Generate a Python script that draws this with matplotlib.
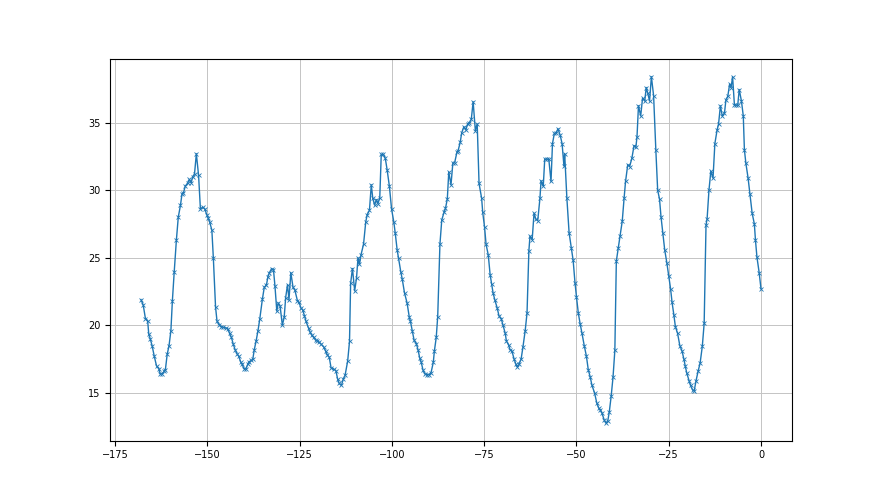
import matplotlib
matplotlib.use("Agg")
import matplotlib.pyplot as plt

# hours relative to now
hours = [
    -168.0, -167.4, -166.8, -166.2, -165.9, -165.5, -165.0, -164.4, -163.8, -163.2,
    -162.8, -162.3, -161.7, -161.4, -160.9, -160.4, -159.9, -159.5, -159.0, -158.4,
    -157.9, -157.3, -156.9, -156.5, -156.0, -155.3, -154.9, -154.4, -154.0, -153.5,
    -153.0, -152.4, -151.9, -151.3, -150.7, -150.2, -149.8, -149.4, -148.8, -148.4,
    -147.8, -147.4, -146.8, -146.3, -145.7, -145.1,
    -144.5, -144.0, -143.5, -143.0, -142.5, -141.9, -141.5, -141.0, -140.6, -140.1,
    -139.6, -139.1, -138.7, -138.1, -137.7, -137.3, -136.8, -136.3, -135.8, -135.1,
    -134.6, -134.0, -133.6, -133.2, -132.6, -132.1, -131.7, -131.2, -130.8, -130.3,
    -129.7, -129.2, -128.8, -128.3, -127.9, -127.4, -126.8, -126.3, -125.6, -125.2,
    -124.6, -124.2, -123.7, -123.3, -122.6, -122.2, -121.7, -121.2, -120.7,
    -120.3, -119.7, -119.2, -118.5, -118.0, -117.5, -117.0, -116.5, -115.8, -115.2,
    -114.7, -114.3, -113.7, -113.2, -112.7, -112.0, -111.5, -111.2, -110.7, -110.1,
    -109.6, -109.2, -108.8, -108.4, -107.7, -107.1, -106.7, -106.1, -105.6, -105.2,
    -104.7, -104.2, -103.8, -103.3, -102.9, -102.3, -101.8, -101.3, -100.7, -100.1,
    -99.5, -99.1, -98.6, -98.2, -97.6, -97.2, -96.6,
    -95.9, -95.3, -95.0, -94.5, -94.0, -93.4, -92.9, -92.5, -92.1, -91.6,
    -91.1, -90.5, -89.9, -89.4, -88.8, -88.5, -88.0, -87.6, -87.0, -86.5,
    -85.9, -85.5, -85.0, -84.6, -84.0, -83.5, -83.0, -82.4, -82.1, -81.5,
    -81.1, -80.5, -80.0, -79.5, -79.0, -78.5, -78.0, -77.4, -76.9, -76.4,
    -75.7, -75.4, -74.9, -74.5, -73.9, -73.4, -73.0, -72.6, -72.1,
    -71.5, -71.0, -70.4, -69.9, -69.3, -69.0, -68.4, -68.0, -67.5, -66.9,
    -66.4, -66.0, -65.6, -65.0, -64.5, -63.9, -63.4, -62.9, -62.6, -62.0,
    -61.5, -61.0, -60.5, -59.9, -59.6, -59.0, -58.6, -58.0, -57.5, -56.9,
    -56.5, -56.0, -55.5, -55.0, -54.4, -53.9, -53.4, -53.2, -52.6, -52.0,
    -51.4, -50.9, -50.4, -50.0, -49.5, -49.0, -48.5, -47.9,
    -47.3, -46.8, -46.3, -45.8, -45.1, -44.5, -44.0, -43.5, -43.1, -42.5,
    -42.0, -41.5, -41.1, -40.6, -40.1, -39.6, -39.2, -38.7, -38.2, -37.6,
    -37.1, -36.7, -36.1, -35.6, -35.0, -34.4, -33.9, -33.6, -33.2, -32.6,
    -32.1, -31.5, -31.1, -30.7, -30.2, -29.7, -29.1, -28.5, -28.0, -27.5,
    -27.1, -26.6, -26.1, -25.5, -25.0, -24.5, -24.1, -23.6, -23.2,
    -22.6, -22.0, -21.4, -20.9, -20.5, -20.1, -19.5, -19.1, -18.5, -18.1,
    -17.6, -17.0, -16.5, -15.9, -15.4, -14.9, -14.6, -14.1, -13.6, -13.0,
    -12.5, -11.9, -11.5, -11.0, -10.5, -9.9, -9.5, -9.0, -8.5, -8.1,
    -7.7, -7.2, -6.8, -6.3, -5.9, -5.3, -4.8, -4.5, -4.1, -3.5,
    -3.0, -2.4, -1.8, -1.5, -1.1, -0.5, 0.0,
]

temps = [
    21.9, 21.5, 20.5, 20.35, 19.35, 19.0, 18.5, 17.7, 17.0, 16.8,
    16.4, 16.4, 16.6, 16.7, 17.85, 18.5, 19.6, 21.8, 23.95, 26.35,
    28.0, 28.9, 29.7, 29.8, 30.3, 30.55, 30.8, 30.55, 31.0, 31.2,
    32.7, 31.1, 28.6, 28.75, 28.6, 28.2, 27.95, 27.65, 27.05, 25.0,
    21.35, 20.3, 20.05, 19.9, 19.85, 19.8,
    19.75, 19.4, 19.1, 18.6, 18.2, 17.85, 17.7, 17.3, 17.1, 16.8,
    16.75, 17.1, 17.3, 17.4, 17.5, 18.2, 18.85, 19.6, 20.5, 21.95,
    22.8, 23.0, 23.6, 23.9, 24.2, 24.1, 22.9, 21.05, 21.65, 21.4,
    20.0, 20.6, 22.05, 23.0, 21.9, 23.9, 22.8, 22.6, 21.8, 21.7,
    21.25, 21.15, 20.7, 20.3, 19.8, 19.5, 19.25, 19.1, 18.9,
    18.85, 18.75, 18.6, 18.4, 18.1, 17.8, 17.65, 16.85, 16.75, 16.65,
    16.0, 15.7, 15.55, 16.0, 16.3, 17.35, 18.8, 23.1, 24.2, 22.55,
    23.5, 25.0, 24.5, 25.2, 26.0, 27.65, 28.2, 28.5, 30.4, 29.4,
    28.9, 29.3, 29.0, 29.45, 32.65, 32.65, 32.35, 31.5, 30.3, 28.6,
    27.65, 26.8, 25.6, 24.95, 23.95, 23.4, 22.4,
    21.65, 20.6, 20.3, 19.6, 18.9, 18.65, 18.15, 17.6, 17.3, 16.7,
    16.4, 16.35, 16.35, 16.5, 17.25, 18.1, 19.1, 20.65, 26.0, 27.8,
    28.35, 28.65, 29.35, 31.35, 30.4, 32.0, 32.05, 32.8, 32.9, 33.55,
    34.25, 34.7, 34.45, 34.9, 35.0, 35.25, 36.55, 34.4, 34.9, 30.5,
    29.4, 28.35, 27.25, 26.0, 25.2, 23.75, 23.05, 22.4, 21.85,
    21.3, 20.7, 20.5, 20.0, 19.4, 18.85, 18.55, 18.2, 18.1, 17.5,
    17.1, 16.9, 17.1, 17.5, 18.4, 19.6, 20.9, 25.5, 26.6, 26.35,
    28.3, 27.85, 27.75, 29.4, 30.7, 30.3, 32.3, 32.3, 32.3, 30.65,
    33.45, 34.2, 34.25, 34.55, 34.05, 33.45, 31.8, 32.7, 29.4, 26.85,
    25.75, 24.8, 23.15, 22.1, 20.9, 20.1, 19.4, 18.5,
    17.7, 16.7, 16.2, 15.55, 15.0, 14.25, 13.9, 13.7, 13.5, 13.0,
    12.75, 12.95, 13.6, 14.75, 16.15, 18.15, 24.75, 25.7, 26.6, 27.7,
    29.4, 30.65, 31.9, 31.75, 32.35, 33.3, 33.2, 33.95, 36.25, 35.5,
    36.8, 36.6, 37.6, 37.2, 36.6, 38.4, 37.0, 33.0, 30.0, 29.35,
    28.05, 26.85, 25.6, 24.6, 23.65, 22.7, 21.7, 20.75, 19.9,
    19.4, 18.5, 18.1, 17.5, 16.95, 16.45, 15.9, 15.55, 15.2, 15.15,
    15.9, 16.65, 17.2, 18.45, 20.15, 27.4, 27.9, 30.0, 31.4, 30.9,
    33.45, 34.45, 34.9, 36.25, 35.5, 35.7, 36.7, 36.95, 37.85, 37.6,
    38.4, 36.3, 36.3, 36.3, 37.45, 36.6, 35.5, 33.0, 32.0, 30.9,
    29.7, 28.3, 27.5, 26.3, 25.05, 23.9, 22.7,
]

fig, ax = plt.subplots(figsize=(8.8, 4.95), dpi=100)

ax.plot(hours, temps, marker="x", markersize=3.5, linewidth=1, color="C0",
        markeredgewidth=0.6)
ax.grid(True, color="#c4c4c4", linewidth=0.7)
ax.tick_params(labelsize=7)

plt.savefig("out.png")
